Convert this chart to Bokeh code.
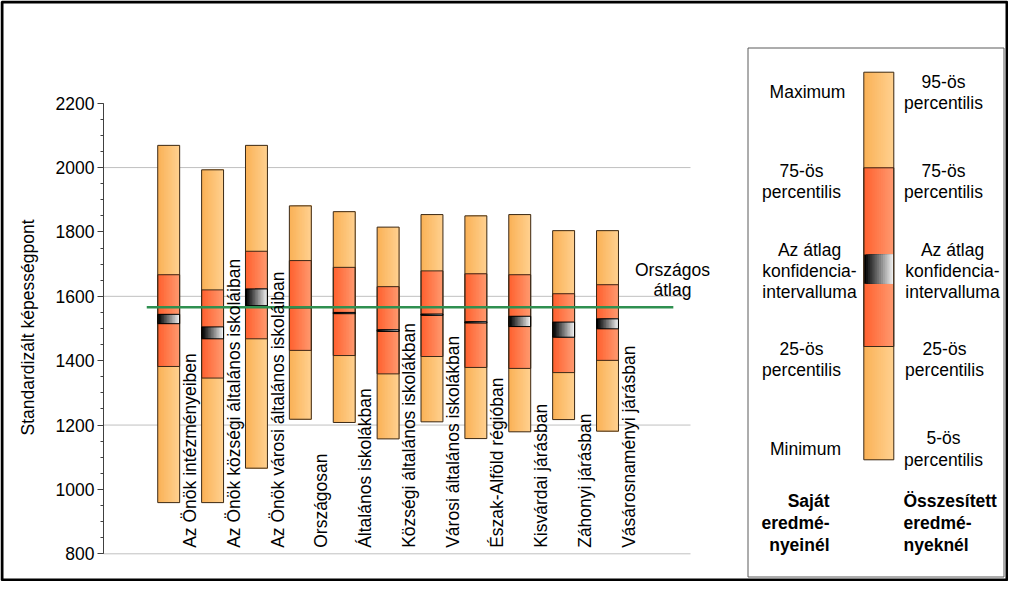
import math
from bokeh.plotting import figure
from bokeh.models import Range1d, LinearAxis, FixedTicker
from bokeh.embed import file_html
from bokeh.resources import INLINE
from bokeh.core.properties import value

# ---------------- data ----------------
categories = [
    "Az Önök intézményeiben",
    "Az Önök községi általános iskoláiban",
    "Az Önök városi általános iskoláiban",
    "Országosan",
    "Általános iskolákban",
    "Községi általános iskolákban",
    "Városi általános iskolákban",
    "Észak-Alföld régióban",
    "Kisvárdai járásban",
    "Záhonyi járásban",
    "Vásárosnaményi járásban",
]
maximum = [2069, 1993, 2069, 1881, 1863, 1815, 1854, 1850, 1854, 1804, 1804]
q75     = [1667, 1620, 1740, 1711, 1690, 1630, 1679, 1670, 1667, 1608, 1636]
ci_high = [1544, 1505, 1623, 1568, 1550, 1496, 1545, 1521, 1538, 1520, 1530]
ci_low  = [1515, 1468, 1571, 1564, 1546, 1491, 1541, 1517, 1506, 1473, 1499]
q25     = [1382, 1346, 1468, 1432, 1416, 1359, 1413, 1379, 1376, 1363, 1401]
minimum = [959, 959, 1066, 1218, 1208, 1157, 1210, 1158, 1179, 1217, 1181]
national_avg = 1566
national_label = "Országos\nátlag"

y_ticks = [800, 1000, 1200, 1400, 1600, 1800, 2000, 2200]
y_minor = list(range(800, 2201, 50))
grid_values = [800, 1200, 1600, 2000]
y_title = "Standardizált képességpont"

legend_left = ["Maximum", "75-ös\npercentilis", "Az átlag\nkonfidencia-\nintervalluma",
               "25-ös\npercentilis", "Minimum"]
legend_right = ["95-ös\npercentilis", "75-ös\npercentilis", "Az átlag\nkonfidencia-\nintervalluma",
                "25-ös\npercentilis", "5-ös\npercentilis"]
legend_bold_left = "Saját\neredmé-\nnyeinél"
legend_bold_right = "Összesített\neredmé-\nnyeknél"

# ---------------- layout helpers ----------------
W, H = 1008, 581
X0_PX, DX_PX = 168.2, 43.88          # px of first category, px per category
Y0_PX, Y800_PX = 102.7, 553.3        # px of 2200 and 800

def px2x(px):
    return (px - X0_PX) / DX_PX

def py2y(py):
    return 2200 - (py - Y0_PX) * 1400.0 / (Y800_PX - Y0_PX)

FONT = "Liberation Sans"
FS = "17.5px"
BAR_W = 0.5
OUTLINE = "#3b2a18"

LIGHT = ((250, 178, 88), (255, 208, 142))
RED = ((255, 98, 48), (255, 152, 110))
CI = ((0, 0, 0), (238, 238, 238))

def mix(c0, c1, t):
    return "#%02x%02x%02x" % tuple(int(round(a + (b - a) * t)) for a, b in zip(c0, c1))

def strips(centers, bottoms, tops, cols, width, n=14):
    L, R, B, T, C = [], [], [], [], []
    for xc, b, t in zip(centers, bottoms, tops):
        left = xc - width / 2
        for k in range(n):
            L.append(left + k * width / n)
            R.append(xc + width / 2)
            B.append(b)
            T.append(t)
            C.append(mix(cols[0], cols[1], k / (n - 1)))
    return dict(left=L, right=R, bottom=B, top=T, color=C)

p = figure(width=W, height=H, output_backend="svg", toolbar_location=None,
           x_range=Range1d(px2x(0), px2x(W)),
           y_range=Range1d(py2y(H), py2y(0)),
           x_axis_type=None, y_axis_type=None, min_border=0,
           outline_line_color=None, background_fill_color="white",
           border_fill_color="white")
p.extra_x_ranges = {"px": Range1d(0, W)}
p.extra_y_ranges = {"px": Range1d(H, 0)}

# y axis
yaxis = LinearAxis(ticker=FixedTicker(ticks=y_ticks, minor_ticks=y_minor),
                   bounds=(800, 2200), fixed_location=px2x(103))
yaxis.axis_line_color = "#404040"
yaxis.major_tick_line_color = "#404040"
yaxis.minor_tick_line_color = "#404040"
yaxis.major_tick_out = 6
yaxis.major_tick_in = 0
yaxis.minor_tick_out = 3
yaxis.minor_tick_in = 0
yaxis.major_label_standoff = 3
yaxis.major_label_text_font = FONT
yaxis.major_label_text_font_size = FS
yaxis.major_label_text_color = "black"
p.add_layout(yaxis, "left")

# gridlines
p.segment(x0=[px2x(103)] * len(grid_values), x1=[px2x(690)] * len(grid_values),
          y0=grid_values, y1=grid_values, line_color="#c0c0c0", line_width=1)

xs = list(range(len(categories)))

# bars
p.quad(source=strips(xs, minimum, maximum, LIGHT, BAR_W), left="left", right="right",
       bottom="bottom", top="top", fill_color="color", line_color=None)
p.quad(source=strips(xs, q25, q75, RED, BAR_W), left="left", right="right",
       bottom="bottom", top="top", fill_color="color", line_color=None)
p.quad(source=strips(xs, ci_low, ci_high, CI, BAR_W), left="left", right="right",
       bottom="bottom", top="top", fill_color="color", line_color=None)
lefts = [x - BAR_W / 2 for x in xs]
rights = [x + BAR_W / 2 for x in xs]
p.quad(left=lefts, right=rights, bottom=minimum, top=maximum, fill_color=None,
       line_color=OUTLINE, line_width=1)
p.quad(left=lefts, right=rights, bottom=q25, top=q75, fill_color=None,
       line_color=OUTLINE, line_width=1)
p.quad(left=lefts, right=rights, bottom=ci_low, top=ci_high, fill_color=None,
       line_color="black", line_width=1)

# national average line
n = len(categories)
p.segment(x0=[-0.5], x1=[n + 0.5], y0=[national_avg], y1=[national_avg],
          line_color="#2f9050", line_width=2.5)
p.text(x=[n + 0.48], y=[national_avg], text=[national_label],
       y_offset=-27, text_align="center", text_baseline="middle",
       text_font=value(FONT), text_font_size=FS, text_line_height=1.0, text_color="black")

# category labels
p.text(x=[x + 0.48 for x in xs], y=[800] * n, text=categories, angle=math.pi / 2,
       y_offset=-6, text_align="left", text_baseline="middle",
       text_font=value(FONT), text_font_size=FS, text_color="black")

# axis title
p.text(x=[27], y=[327], text=[y_title], angle=math.pi / 2, text_align="center",
       text_baseline="middle", text_font=value(FONT), text_font_size=FS,
       text_color="black", x_range_name="px", y_range_name="px")

# ---------------- legend (pixel coordinates) ----------------
p.quad(left=[747.5], right=[1003.5], top=[47.5], bottom=[576.5], fill_color="white",
       line_color="#5a5a5a", line_width=1, x_range_name="px", y_range_name="px")
LX = 878.3
LW = 30
lg_top, lg_q75, lg_cih, lg_cil, lg_q25, lg_bot = 71.7, 167.3, 254.0, 283.3, 346.0, 459.3
for (b, t, cols) in [(lg_bot, lg_top, LIGHT), (lg_q25, lg_q75, RED), (lg_cil, lg_cih, CI)]:
    p.quad(source=strips([LX], [b], [t], cols, LW), left="left", right="right",
           bottom="bottom", top="top", fill_color="color", line_color=None,
           x_range_name="px", y_range_name="px")
p.quad(left=[LX - LW / 2] * 2, right=[LX + LW / 2] * 2, bottom=[lg_bot, lg_q25],
       top=[lg_top, lg_q75], fill_color=None, line_color=OUTLINE, line_width=1,
       x_range_name="px", y_range_name="px")

ys_blocks = [91.7, 180.7, 270.5, 359.0, 448.5]
p.text(x=[807, 801, 809, 801, 805], y=ys_blocks, text=legend_left,
       text_align="center", text_baseline="middle", text_font=value(FONT),
       text_font_size=FS, text_line_height=1.07, text_color="black",
       x_range_name="px", y_range_name="px")
p.text(x=[943, 943, 952, 944, 943], y=ys_blocks, text=legend_right,
       text_align="center", text_baseline="middle", text_font=value(FONT),
       text_font_size=FS, text_line_height=1.07, text_color="black",
       x_range_name="px", y_range_name="px")
p.text(x=[829], y=[522.5], text=[legend_bold_left], text_align="right",
       text_baseline="middle", text_font=value(FONT), text_font_size=FS,
       text_font_style="bold", text_line_height=1.1, text_color="black",
       x_range_name="px", y_range_name="px")
p.text(x=[903], y=[522.5], text=[legend_bold_right], text_align="left",
       text_baseline="middle", text_font=value(FONT), text_font_size=FS,
       text_font_style="bold", text_line_height=1.1, text_color="black",
       x_range_name="px", y_range_name="px")

# outer frame
p.quad(left=[1.5], right=[W - 1.5], top=[1.5], bottom=[H - 1.5], fill_color=None,
       line_color="black", line_width=3, x_range_name="px", y_range_name="px")

open("out.html", "w").write(file_html(p, INLINE))
